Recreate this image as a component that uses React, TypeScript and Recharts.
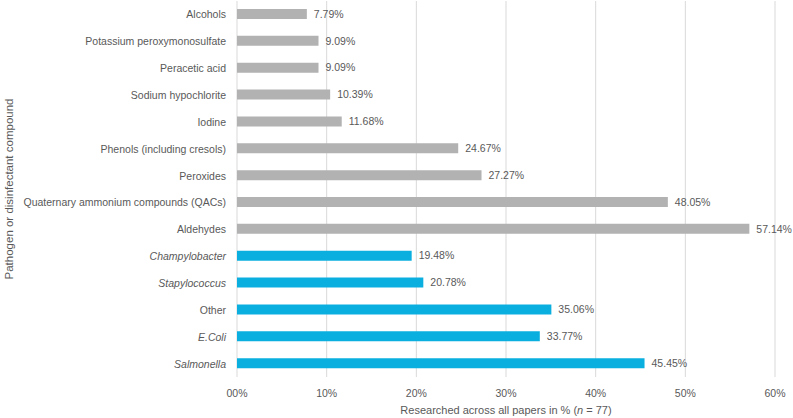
import React from 'react';
import { BarChart, Bar, XAxis, YAxis, CartesianGrid, Cell, LabelList } from 'recharts';

const categories: string[] = [
    'Alcohols',
    'Potassium peroxymonosulfate',
    'Peracetic acid',
    'Sodium hypochlorite',
    'Iodine',
    'Phenols (including cresols)',
    'Peroxides',
    'Quaternary ammonium compounds (QACs)',
    'Aldehydes',
    'Champylobacter',
    'Stapylococcus',
    'Other',
    'E.Coli',
    'Salmonella',
];

const shares: number[] = [7.79, 9.09, 9.09, 10.39, 11.68, 24.67, 27.27, 48.05, 57.14, 19.48, 20.78, 35.06, 33.77, 45.45];

// 'd' = disinfectant compound, 'p' = pathogen
const groups: string[] = ['d', 'd', 'd', 'd', 'd', 'd', 'd', 'd', 'd', 'p', 'p', 'p', 'p', 'p'];

const italicNames: string[] = ['Champylobacter', 'Stapylococcus', 'E.Coli', 'Salmonella'];

const xTicks: number[] = [0, 10, 20, 30, 40, 50, 60];
const xTickLabels: string[] = ['00%', '10%', '20%', '30%', '40%', '50%', '60%'];

const data = categories.map((name, i) => ({ name, value: shares[i], group: groups[i] }));

const TEXT = '#595959';
const FONT = '"Liberation Sans", Arial, sans-serif';

const YTick = (props: any) => {
    const { x, y, payload } = props;
    const italic = italicNames.includes(payload.value);
    return (
        <text x={x} y={y} dy={4} textAnchor="end" fill={TEXT} fontSize={10.5} fontFamily={FONT} fontStyle={italic ? 'italic' : 'normal'}>
            {payload.value}
        </text>
    );
};

const XTick = (props: any) => {
    const { x, y, payload } = props;
    const idx = xTicks.indexOf(payload.value);
    return (
        <text x={x} y={y} dy={8} textAnchor="middle" fill={TEXT} fontSize={10.5} fontFamily={FONT}>
            {xTickLabels[idx]}
        </text>
    );
};

const XTitle = (props: any) => {
    const { viewBox } = props;
    const cx = viewBox.x + viewBox.width / 2;
    return (
        <text x={cx} y={viewBox.y + 37} textAnchor="middle" fill={TEXT} fontSize={11} fontFamily={FONT}>
            Researched across all papers in % (<tspan fontStyle="italic">n</tspan> = 77)
        </text>
    );
};

const YTitle = (props: any) => {
    const { viewBox } = props;
    const cy = viewBox.y + viewBox.height / 2;
    return (
        <text x={9} y={cy} transform={`rotate(-90, 9, ${cy})`} textAnchor="middle" dominantBaseline="central" fill={TEXT} fontSize={11.5} fontFamily={FONT}>
            Pathogen or disinfectant compound
        </text>
    );
};

const App: React.FC = () => {
    return (
        <div style={{ position: 'absolute', left: 0, top: 0, width: 793, height: 418, background: '#fff' }}>
            <BarChart width={793} height={418} data={data} layout="vertical" margin={{ top: 1, right: 18, left: 0, bottom: 11 }}>
                <CartesianGrid horizontal={false} stroke="#d9d9d9" />
                <XAxis
                    type="number"
                    domain={[0, 60]}
                    ticks={xTicks}
                    axisLine={false}
                    tickLine={false}
                    tickSize={0}
                    tickMargin={12}
                    height={30}
                    tick={<XTick />}
                    label={<XTitle />}
                />
                <YAxis
                    type="category"
                    dataKey="name"
                    width={237}
                    axisLine={false}
                    tickLine={false}
                    tickSize={0}
                    tickMargin={11}
                    interval={0}
                    tick={<YTick />}
                    label={<YTitle />}
                />
                <Bar dataKey="value" barSize={10} isAnimationActive={false}>
                    {data.map((d, i) => (
                        <Cell key={i} fill={d.group === 'p' ? '#0aafdf' : '#b2b2b2'} />
                    ))}
                    <LabelList
                        dataKey="value"
                        position="right"
                        offset={7}
                        fill={TEXT}
                        fontSize={10.5}
                        fontFamily={FONT}
                        formatter={(v: any) => `${Number(v).toFixed(2)}%`}
                    />
                </Bar>
            </BarChart>
        </div>
    );
};

export default App;
